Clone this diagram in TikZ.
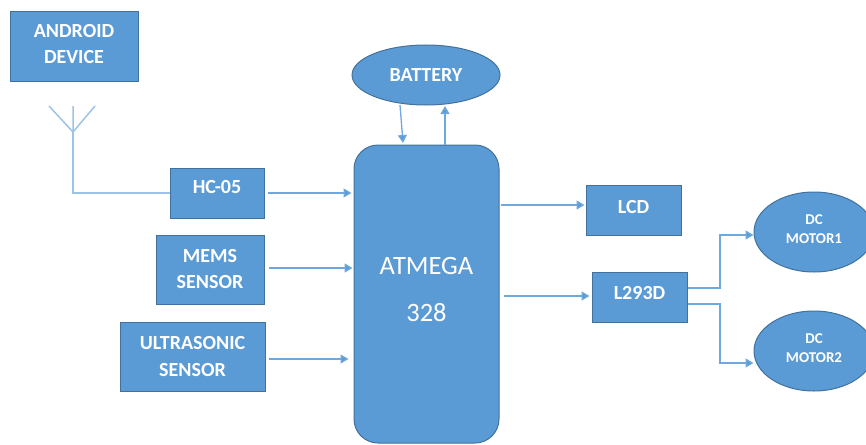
\documentclass[tikz,border=0pt]{standalone}
\usepackage{fontspec}
\setmainfont{Carlito}
\usetikzlibrary{arrows.meta,shapes.geometric,positioning,calc}
\definecolor{fillblue}{HTML}{5B9BD5}
\definecolor{edgeblue}{HTML}{41719C}
\definecolor{lineblue}{HTML}{6FA8DC}
\definecolor{paleblue}{HTML}{9DC3E6}
\tikzset{
  box/.style={rectangle,draw=edgeblue,line width=1pt,fill=fillblue,text=white,align=center,inner sep=0pt,font=\fontsize{20}{26.5}\selectfont\bfseries,text depth=5pt},
  oval/.style={ellipse,draw=edgeblue,line width=1pt,fill=fillblue,text=white,align=center,inner sep=0pt,font=\fontsize{20}{27}\selectfont\bfseries},
  motor/.style={oval,font=\fontsize{15}{19}\selectfont\bfseries,text depth=5pt},
  conn/.style={draw=lineblue,line width=1.3pt},
  arr/.style={conn,-{Triangle[length=8pt,width=9pt,fill=fillblue]}},
  pale/.style={draw=paleblue,line width=1.5pt}
}
\begin{document}
\begin{tikzpicture}[x=1pt,y=-1pt]
\useasboundingbox (0,0) rectangle (866,444);
\clip (0,0) rectangle (866,444);
\node[box,minimum width=128pt,minimum height=69pt] (android) at (74,46.5) {ANDROID\\DEVICE};
\node[box,minimum width=94pt,minimum height=50pt,text depth=13pt] (hc) at (217,193) {HC-05};
\node[box,minimum width=108pt,minimum height=69pt,text depth=1pt] (mems) at (210,269.5) {MEMS\\SENSOR};
\node[box,minimum width=145pt,minimum height=69pt,text depth=0pt] (ultra) at (192.5,356.5) {ULTRASONIC\\SENSOR};
\node[rectangle,rounded corners=24pt,draw=edgeblue,line width=1pt,fill=fillblue,text=white,align=center,inner sep=0pt,minimum width=145pt,minimum height=298pt,font=\fontsize{26.5}{47}\selectfont,text depth=9pt] (atm) at (426.5,294) {ATMEGA\\328};
\node[oval,minimum width=148pt,minimum height=60pt] (batt) at (426,75) {BATTERY};
\node[box,minimum width=95pt,minimum height=50pt,text depth=7pt] (lcd) at (633.5,210) {LCD};
\node[box,minimum width=95pt,minimum height=50pt,text depth=9pt] (l293) at (639.5,297) {L293D};
\node[motor,minimum width=120pt,minimum height=80pt] (m1) at (814,232) {DC\\MOTOR1};
\node[motor,minimum width=120pt,minimum height=80pt] (m2) at (814,351) {DC\\MOTOR2};
% antenna
\coordinate (ant) at (73,193);
\coordinate (fork) at (73,132);
\coordinate (tip) at (73,106);
\coordinate (armL) at (49,106);
\coordinate (armR) at (95,106);
\draw[pale] (tip) -- (fork) (armL) -- (fork) -- (armR);
\draw[pale] (fork) -- (ant) -- (hc.west);
% inputs
\draw[arr,shorten <=3pt,shorten >=2pt] (hc.east) -- (hc.east -| atm.west);
\draw[arr,shorten <=4pt,shorten >=1pt] ([yshift=1.5pt]mems.east) -- ([yshift=1.5pt]mems.east -| atm.west);
\draw[arr,shorten <=3pt,shorten >=5pt] ([yshift=-2.5pt]ultra.east) -- ([yshift=-2.5pt]ultra.east -| atm.west);
% battery
\coordinate (bd) at (400,105);
\coordinate (bda) at (403,143);
\coordinate (bu) at (445,145);
\coordinate (bua) at (445,106);
\draw[arr] (bd) -- (bda);
\draw[arr] (bu) -- (bua);
% outputs
\draw[arr,shorten <=1pt,shorten >=1pt] ([yshift=5pt]lcd.west -| atm.east) -- ([yshift=5pt]lcd.west);
\draw[arr,shorten <=4pt,shorten >=2pt] ([yshift=1pt]l293.west -| atm.east) -- ([yshift=1pt]l293.west);
\coordinate (k1) at (720,235);
\coordinate (k2) at (720,363);
\draw[arr] ([yshift=9pt]l293.east) -| (k1) -- (k1 -| m1.west);
\draw[arr] ([yshift=-7pt]l293.east) -| (k2) -- (k2 -| m2.west);
\end{tikzpicture}
\end{document}
